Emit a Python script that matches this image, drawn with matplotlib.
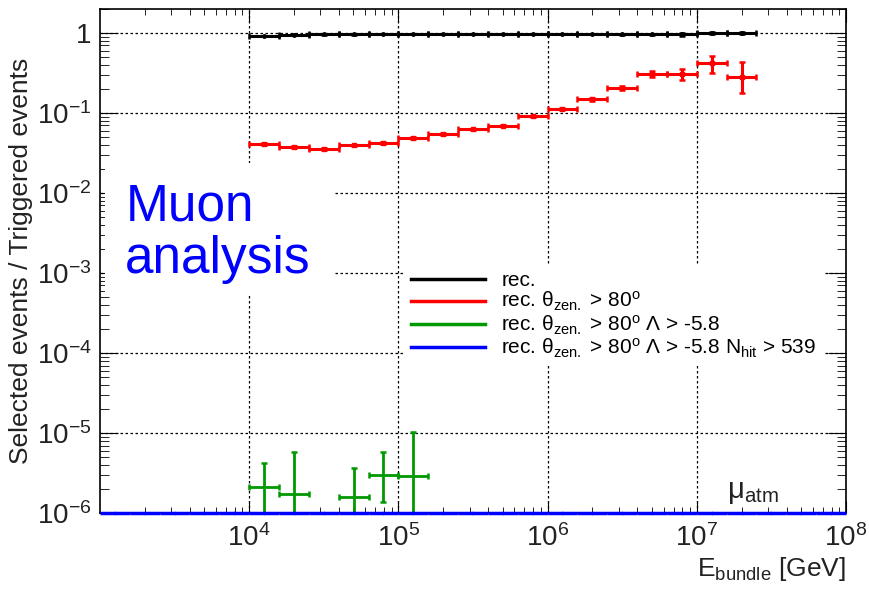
import numpy as np
import matplotlib.pyplot as plt
from matplotlib.patches import Rectangle
from matplotlib.ticker import LogLocator, NullFormatter

plt.rcParams['font.family'] = ['Liberation Sans', 'DejaVu Sans']
plt.rcParams['mathtext.fontset'] = 'custom'
plt.rcParams['mathtext.rm'] = 'Liberation Sans'
plt.rcParams['mathtext.it'] = 'Liberation Sans:italic'

# log10(E) bin edges, width 0.2 decades
bin_lo = [4.0, 4.2, 4.4, 4.6, 4.8, 5.0, 5.2, 5.4, 5.6, 5.8,
          6.0, 6.2, 6.4, 6.6, 6.8, 7.0, 7.2]
bin_hi = [4.2, 4.4, 4.6, 4.8, 5.0, 5.2, 5.4, 5.6, 5.8, 6.0,
          6.2, 6.4, 6.6, 6.8, 7.0, 7.2, 7.4]

rec = [0.92, 0.95, 0.96, 0.96, 0.97, 0.97, 0.97, 0.97, 0.97, 0.97,
       0.97, 0.97, 0.96, 0.96, 0.96, 1.0, 1.0]
rec_err = [0.01, 0.01, 0.01, 0.01, 0.01, 0.01, 0.01, 0.01, 0.01, 0.01,
           0.01, 0.01, 0.02, 0.02, 0.03, 0.03, 0.04]

rec_zen = [0.041, 0.0376, 0.0355, 0.0394, 0.0426, 0.0487, 0.0546, 0.0625, 0.0695, 0.0908,
           0.111, 0.148, 0.205, 0.31, 0.31, 0.425, 0.28]
rec_zen_lo = [0.001, 0.001, 0.001, 0.001, 0.001, 0.001, 0.001, 0.001, 0.001, 0.002,
              0.003, 0.005, 0.01, 0.025, 0.05, 0.105, 0.103]
rec_zen_hi = [0.001, 0.001, 0.001, 0.001, 0.001, 0.001, 0.001, 0.001, 0.001, 0.002,
              0.003, 0.005, 0.01, 0.025, 0.05, 0.095, 0.15]

# rec. + theta + Lambda cut (only a few low-energy bins non-empty)
lam_lo_edge = [4.0, 4.2, 4.6, 4.8, 5.0]
lam_hi_edge = [4.2, 4.4, 4.8, 5.0, 5.2]
lam_val = [2.1e-6, 1.75e-6, 1.6e-6, 3.0e-6, 2.9e-6]
lam_down = [5e-7, 5e-7, 5e-7, 1.38e-6, 5e-7]
lam_up = [4.2e-6, 5.8e-6, 3.7e-6, 5.8e-6, 1.02e-5]

# Nhit cut: empty everywhere, drawn on the lower frame
nhit_lo = [3.0, 3.2, 3.4, 3.6, 3.8, 4.0, 4.2, 4.4, 4.6, 4.8, 5.0, 5.2, 5.4,
           5.6, 5.8, 6.0, 6.2, 6.4, 6.6, 6.8, 7.0, 7.2, 7.4, 7.6, 7.8]
nhit_val = [1e-6] * 25

labels = ['rec.',
          'rec. θ$_{\\rm zen.}$ > 80$^{\\rm o}$',
          'rec. θ$_{\\rm zen.}$ > 80$^{\\rm o}$ Λ > -5.8',
          'rec. θ$_{\\rm zen.}$ > 80$^{\\rm o}$ Λ > -5.8 N$_{\\rm hit}$ > 539']


def bins_to_x(lo, hi):
    lo = np.array(lo)
    hi = np.array(hi)
    c = 10 ** ((lo + hi) / 2)
    return c, [c - 10 ** lo, 10 ** hi - c]


fig = plt.figure(figsize=(8.69, 5.96), dpi=100)
ax = fig.add_axes([0.115, 0.139, 0.8585, 0.846])
ax.set_xscale('log')
ax.set_yscale('log')
ax.set_xlim(1e3, 1e8)
ax.set_ylim(1e-6, 2.0)

ax.grid(True, which='major', color='black', linestyle=(0, (2, 2)), linewidth=0.9)

x, xe = bins_to_x(bin_lo, bin_hi)
ax.errorbar(x, rec, xerr=xe, yerr=rec_err, fmt='o', ms=2.5, color='black',
            lw=2.2, capsize=2, capthick=1.8, zorder=3)
ax.errorbar(x, rec_zen, xerr=xe, yerr=[rec_zen_lo, rec_zen_hi], fmt='s', ms=2.5,
            color='red', lw=2.2, capsize=2, capthick=1.8, zorder=3)

xg, xge = bins_to_x(lam_lo_edge, lam_hi_edge)
lam_val = np.array(lam_val)
ax.errorbar(xg, lam_val, xerr=xge,
            yerr=[lam_val - np.array(lam_down), np.array(lam_up) - lam_val],
            fmt='none', color='#009900', lw=2.0, capsize=2, capthick=1.8, zorder=3)

xb, xbe = bins_to_x(nhit_lo, np.array(nhit_lo) + 0.2)
ax.errorbar(xb, nhit_val, xerr=xbe, fmt='o', ms=1.5, color='blue', lw=2.5,
            capsize=0, zorder=4, clip_on=False)

handles = [plt.Line2D([], [], color=c, lw=2.5) for c in ['black', 'red', '#009900', 'blue']]
leg = ax.legend(handles, labels, loc='upper left', bbox_to_anchor=(0.395, 0.513),
                fontsize=15, frameon=True, framealpha=1, edgecolor='none',
                fancybox=False, handlelength=3.55, labelspacing=0.0,
                borderpad=0.3, handletextpad=0.77)
leg.set_zorder(5)

# white box behind the "Muon analysis" label
ax.add_patch(Rectangle((0.007, 0.4325), 0.305, 0.262, transform=ax.transAxes,
                       facecolor='white', edgecolor='none', zorder=4))
ax.text(0.034, 0.555, 'Muon\nanalysis', transform=ax.transAxes, fontsize=37,
        color='blue', va='center', ha='left', linespacing=1.1, zorder=5)

ax.text(1.6e7, 1.55e-6, 'μ$_{\\rm atm}$', fontsize=21, color='#222222')

ax.set_ylabel('Selected events / Triggered events', fontsize=19, color='#222222', labelpad=3)
ax.set_xlabel(r'E$_{\rm bundle}$ [GeV]', fontsize=19, color='#222222', loc='right', labelpad=2)

ax.xaxis.set_minor_locator(LogLocator(base=10, subs=np.arange(2, 10), numticks=10))
ax.yaxis.set_minor_locator(LogLocator(base=10, subs=np.arange(2, 10), numticks=10))
ax.xaxis.set_minor_formatter(NullFormatter())
ax.yaxis.set_minor_formatter(NullFormatter())
ax.set_xticks([1e4, 1e5, 1e6, 1e7, 1e8])
ax.set_xticklabels([r'10$^{4}$', r'10$^{5}$', r'10$^{6}$', r'10$^{7}$', r'10$^{8}$'])
ax.set_yticks([1e-6, 1e-5, 1e-4, 1e-3, 1e-2, 1e-1, 1])
ax.set_yticklabels([r'10$^{-6}$', r'10$^{-5}$', r'10$^{-4}$', r'10$^{-3}$',
                    r'10$^{-2}$', r'10$^{-1}$', '1'])

ax.tick_params(which='both', direction='in', top=True, right=True,
               labelsize=20, labelcolor='#222222')
ax.tick_params(axis='y', which='major', length=13, pad=6)
ax.tick_params(axis='y', which='minor', length=6.5)
ax.tick_params(axis='x', which='major', length=9, pad=8)
ax.tick_params(axis='x', which='minor', length=4.5)
for s in ax.spines.values():
    s.set_linewidth(1.2)

fig.savefig('out.png', dpi=100)
